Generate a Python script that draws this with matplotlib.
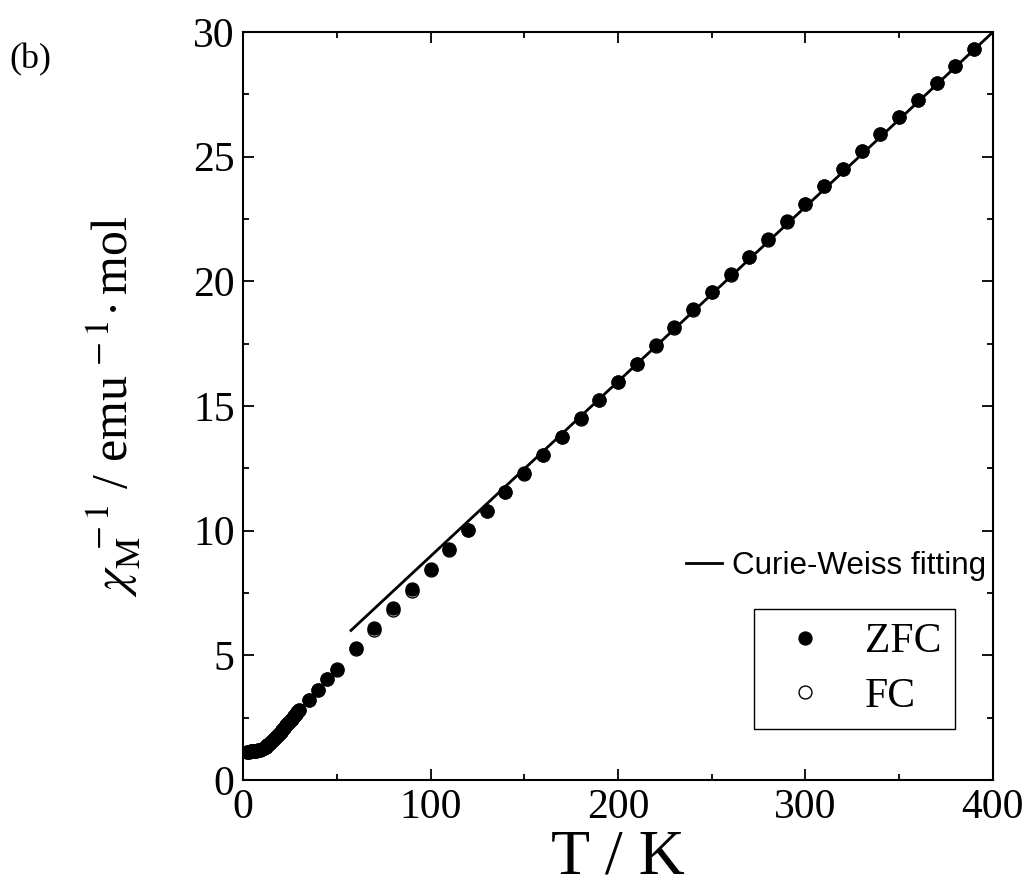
import matplotlib
matplotlib.use("Agg")
import matplotlib.pyplot as plt
from matplotlib.lines import Line2D
from matplotlib.ticker import MultipleLocator

plt.rcParams['font.family'] = ['Liberation Serif', 'DejaVu Serif']
plt.rcParams['mathtext.fontset'] = 'stix'

# ---- data ----
T_zfc = [2, 3, 4, 5, 6, 7, 8, 9, 10, 11, 12, 13, 14, 15, 16, 17, 18, 19, 20,
         21, 22, 23, 24, 25, 26, 27, 28, 29, 30, 35, 40, 45, 50,
         60, 70, 80, 90, 100, 110, 120, 130, 140, 150, 160, 170, 180, 190, 200,
         210, 220, 230, 240, 250, 260, 270, 280, 290, 300, 310, 320, 330, 340,
         350, 360, 370, 380, 390]
chi_zfc = [1.13, 1.14, 1.15, 1.16, 1.17, 1.18, 1.19, 1.21, 1.24, 1.28, 1.33, 1.39,
           1.46, 1.53, 1.61, 1.69, 1.77, 1.85, 1.93, 2.02, 2.10, 2.19, 2.28, 2.37,
           2.46, 2.55, 2.64, 2.72, 2.80, 3.20, 3.62, 4.05, 4.45,
           5.30, 6.08, 6.88, 7.65, 8.46, 9.25, 10.03, 10.80, 11.55, 12.30, 13.03,
           13.77, 14.50, 15.24, 15.97, 16.70, 17.43, 18.15, 18.88, 19.58, 20.28,
           20.98, 21.68, 22.40, 23.10, 23.82, 24.52, 25.22, 25.92, 26.60, 27.28,
           27.95, 28.65, 29.32]
T_fc = T_zfc
chi_fc = [1.13, 1.14, 1.15, 1.16, 1.17, 1.18, 1.19, 1.21, 1.24, 1.28, 1.33, 1.39,
          1.46, 1.53, 1.61, 1.69, 1.77, 1.85, 1.93, 2.02, 2.10, 2.19, 2.28, 2.37,
          2.46, 2.55, 2.64, 2.72, 2.80, 3.20, 3.62, 4.05, 4.43,
          5.27, 6.03, 6.83, 7.60, 8.43, 9.23, 10.02, 10.79, 11.54, 12.29, 13.02,
          13.76, 14.49, 15.23, 15.96, 16.69, 17.42, 18.14, 18.87, 19.57, 20.27,
          20.97, 21.67, 22.39, 23.09, 23.81, 24.51, 25.21, 25.91, 26.59, 27.27,
          27.94, 28.64, 29.31]
T_fit = [57.6, 400]
chi_fit = [6.0, 30.0]

fig = plt.figure(figsize=(10.29, 8.88), dpi=100)
ax = fig.add_axes([243/1029, 1-780/888, 750/1029, 748/888])

ax.plot(T_fc, chi_fc, 'o', mfc='white', mec='black', ms=9.3, mew=1.0, ls='none')
ax.plot(T_zfc, chi_zfc, 'o', mfc='black', mec='black', ms=9.3, ls='none')
fitline, = ax.plot(T_fit, chi_fit, '-', color='black', lw=2.0)

ax.set_xlim(0, 400)
ax.set_ylim(0, 30)
ax.xaxis.set_major_locator(MultipleLocator(100))
ax.xaxis.set_minor_locator(MultipleLocator(50))
ax.yaxis.set_major_locator(MultipleLocator(5))
ax.yaxis.set_minor_locator(MultipleLocator(2.5))
ax.tick_params(which='both', direction='in', top=True, right=True, width=1.3)
ax.tick_params(which='major', length=8, labelsize=30, pad=6)
ax.tick_params(which='minor', length=4.5)
for s in ax.spines.values():
    s.set_linewidth(1.5)

ax.set_xlabel('T / K', fontsize=46, labelpad=2)
ax.set_ylabel(r'$\chi_{\mathrm{M}}^{\;\,-1}$ / emu$^{\,-1}\!\cdot$mol', fontsize=36, labelpad=36)

fig.text(30/1029, 1-60/888, '(b)', fontsize=26, ha='center', va='center')

leg1 = ax.legend([fitline], ['Curie-Weiss fitting'], loc='center left',
                 bbox_to_anchor=(686/1029, 1-566/888), bbox_transform=fig.transFigure,
                 frameon=False, borderpad=0, borderaxespad=0, handlelength=1.15,
                 handletextpad=0.32, prop={'family': 'Liberation Sans', 'size': 22.6})
ax.add_artist(leg1)

h_zfc = Line2D([], [], marker='o', ls='none', mfc='black', mec='black', ms=9.3)
h_fc = Line2D([], [], marker='o', ls='none', mfc='white', mec='black', ms=9.3, mew=1.0)
leg2 = ax.legend([h_zfc, h_fc], ['ZFC', 'FC'], loc='upper left',
                 bbox_to_anchor=(754/1029, 1-609/888), bbox_transform=fig.transFigure,
                 fancybox=False, edgecolor='black', framealpha=1, borderpad=0.33,
                 borderaxespad=0, handlelength=1.78, handletextpad=0.55,
                 labelspacing=0.38, prop={'size': 30})
leg2.get_frame().set_linewidth(1.0)

fig.savefig('out.png', dpi=100)
